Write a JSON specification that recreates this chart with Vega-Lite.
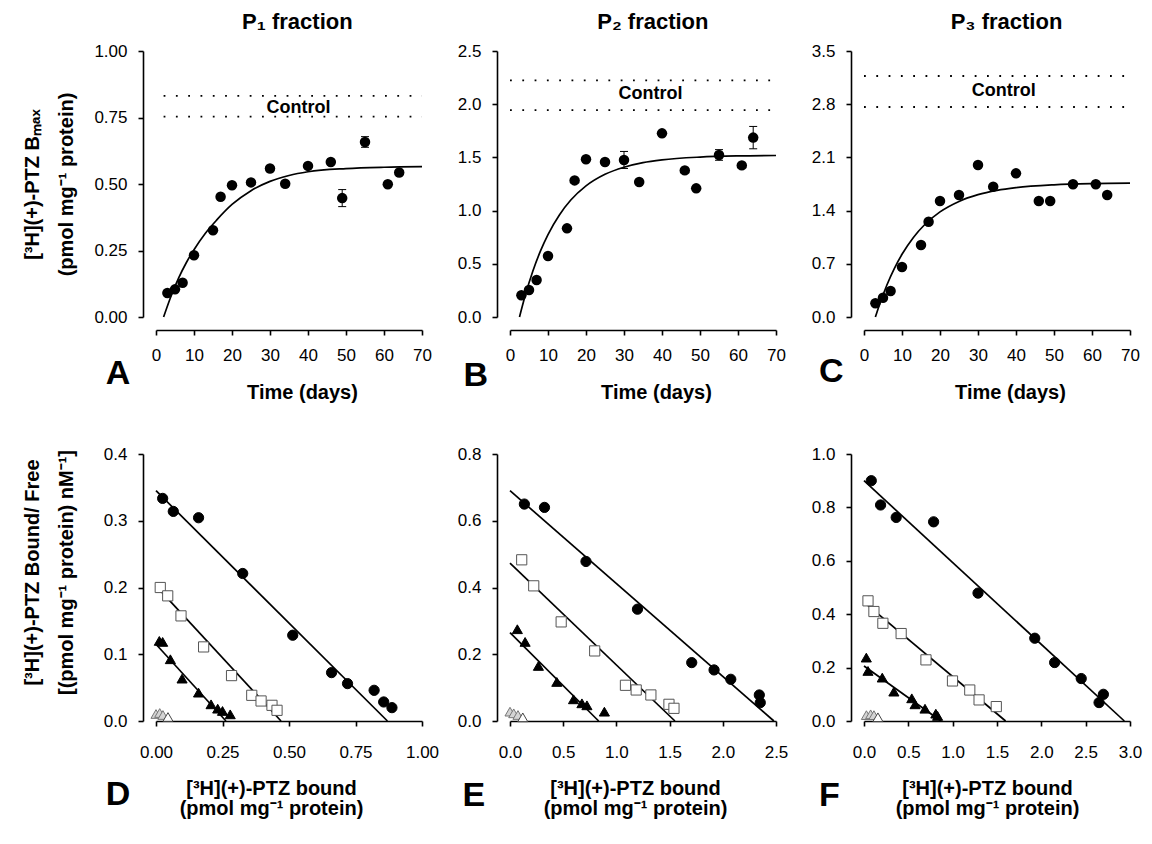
{
 "$schema": "https://vega.github.io/schema/vega-lite/v6.json",
 "background": "white",
 "padding": {"left": 22, "top": 10, "right": 6, "bottom": 4},
 "config": {
  "font": "Liberation Sans",
  "view": {"stroke": null},
  "scale": {"nice": false},
  "axis": {"grid": false, "domainColor": "black", "domainWidth": 1.6, "tickColor": "black", "tickWidth": 1.6, "tickSize": 5,
           "labelFont": "Liberation Sans", "labelFontSize": 17, "labelColor": "black", "labelFlush": false, "labelOverlap": false,
           "titleFont": "Liberation Sans", "titleFontSize": 20, "titleFontWeight": "bold", "titleColor": "black"},
  "axisY": {"labelPadding": 11, "offset": 13},
  "text": {"font": "Liberation Sans", "color": "black", "fontWeight": "bold"}
 },
 "datasets": {
  "tc": [
   {"p":"A","day":3,"y":0.09},{"p":"A","day":5,"y":0.104},{"p":"A","day":7,"y":0.129},{"p":"A","day":10,"y":0.232},
   {"p":"A","day":15,"y":0.326},{"p":"A","day":17,"y":0.452},{"p":"A","day":20,"y":0.495},{"p":"A","day":25,"y":0.506},
   {"p":"A","day":30,"y":0.558},{"p":"A","day":34,"y":0.501},{"p":"A","day":40,"y":0.568},{"p":"A","day":46,"y":0.583},
   {"p":"A","day":49,"y":0.447},{"p":"A","day":55,"y":0.658},{"p":"A","day":61,"y":0.499},{"p":"A","day":64,"y":0.543},
   {"p":"B","day":3,"y":0.204},{"p":"B","day":5,"y":0.254},{"p":"B","day":7,"y":0.348},{"p":"B","day":10,"y":0.573},
   {"p":"B","day":15,"y":0.833},{"p":"B","day":17,"y":1.284},{"p":"B","day":20,"y":1.482},{"p":"B","day":25,"y":1.457},
   {"p":"B","day":30,"y":1.476},{"p":"B","day":34,"y":1.269},{"p":"B","day":40,"y":1.726},{"p":"B","day":46,"y":1.378},
   {"p":"B","day":49,"y":1.209},{"p":"B","day":55,"y":1.523},{"p":"B","day":61,"y":1.425},{"p":"B","day":64,"y":1.686},
   {"p":"C","day":3,"y":0.18},{"p":"C","day":5,"y":0.254},{"p":"C","day":7,"y":0.342},{"p":"C","day":10,"y":0.658},
   {"p":"C","day":15,"y":0.947},{"p":"C","day":17,"y":1.254},{"p":"C","day":20,"y":1.526},{"p":"C","day":25,"y":1.605},
   {"p":"C","day":30,"y":2.0},{"p":"C","day":34,"y":1.715},{"p":"C","day":40,"y":1.89},{"p":"C","day":46,"y":1.526},
   {"p":"C","day":49,"y":1.526},{"p":"C","day":55,"y":1.746},{"p":"C","day":61,"y":1.746},{"p":"C","day":64,"y":1.605}
  ],
  "eb": [
   {"p":"A","day":49,"lo":0.415,"hi":0.479},{"p":"A","day":55,"lo":0.638,"hi":0.678},
   {"p":"B","day":30,"lo":1.396,"hi":1.556},{"p":"B","day":55,"lo":1.473,"hi":1.573},{"p":"B","day":64,"lo":1.581,"hi":1.791}
  ],
  "fit": [
   {"p":"A","day":2,"y":0},{"p":"A","day":4,"y":0.08},{"p":"A","day":6,"y":0.148},{"p":"A","day":8,"y":0.205},{"p":"A","day":10,"y":0.253},
   {"p":"A","day":13,"y":0.315},{"p":"A","day":16,"y":0.365},{"p":"A","day":20,"y":0.423},{"p":"A","day":25,"y":0.475},{"p":"A","day":30,"y":0.51},
   {"p":"A","day":35,"y":0.532},{"p":"A","day":40,"y":0.546},{"p":"A","day":50,"y":0.558},{"p":"A","day":60,"y":0.563},{"p":"A","day":70,"y":0.565},
   {"p":"B","day":2.5,"y":0},{"p":"B","day":4,"y":0.202},{"p":"B","day":6,"y":0.43},{"p":"B","day":8,"y":0.619},{"p":"B","day":10,"y":0.775},
   {"p":"B","day":13,"y":0.959},{"p":"B","day":16,"y":1.099},{"p":"B","day":20,"y":1.232},{"p":"B","day":25,"y":1.341},{"p":"B","day":30,"y":1.408},
   {"p":"B","day":35,"y":1.451},{"p":"B","day":40,"y":1.477},{"p":"B","day":50,"y":1.503},{"p":"B","day":60,"y":1.514},{"p":"B","day":70,"y":1.518},
   {"p":"C","day":3,"y":0},{"p":"C","day":4,"y":0.152},{"p":"C","day":6,"y":0.418},{"p":"C","day":8,"y":0.64},{"p":"C","day":10,"y":0.825},
   {"p":"C","day":13,"y":1.047},{"p":"C","day":16,"y":1.217},{"p":"C","day":20,"y":1.383},{"p":"C","day":25,"y":1.521},{"p":"C","day":30,"y":1.61},
   {"p":"C","day":35,"y":1.666},{"p":"C","day":40,"y":1.702},{"p":"C","day":50,"y":1.739},{"p":"C","day":60,"y":1.755},{"p":"C","day":70,"y":1.761}
  ],
  "ctrl": [
   {"p":"A","lvl":"hi","day":2,"y":0.831},{"p":"A","lvl":"hi","day":70,"y":0.831},
   {"p":"A","lvl":"lo","day":2,"y":0.753},{"p":"A","lvl":"lo","day":70,"y":0.753},
   {"p":"B","lvl":"hi","day":0,"y":2.224},{"p":"B","lvl":"hi","day":70,"y":2.224},
   {"p":"B","lvl":"lo","day":0,"y":1.945},{"p":"B","lvl":"lo","day":70,"y":1.945},
   {"p":"C","lvl":"hi","day":0,"y":3.171},{"p":"C","lvl":"hi","day":70,"y":3.171},
   {"p":"C","lvl":"lo","day":0,"y":2.763},{"p":"C","lvl":"lo","day":70,"y":2.763}
  ],
  "sc": [
   {"p":"D","s":"circle","b":0.025,"r":0.3335},{"p":"D","s":"circle","b":0.065,"r":0.314},{"p":"D","s":"circle","b":0.16,"r":0.3045},
   {"p":"D","s":"circle","b":0.326,"r":0.221},{"p":"D","s":"circle","b":0.514,"r":0.1285},{"p":"D","s":"circle","b":0.66,"r":0.0725},
   {"p":"D","s":"circle","b":0.72,"r":0.056},{"p":"D","s":"circle","b":0.82,"r":0.046},{"p":"D","s":"circle","b":0.856,"r":0.0285},
   {"p":"D","s":"circle","b":0.887,"r":0.02},
   {"p":"D","s":"square","b":0.016,"r":0.2},{"p":"D","s":"square","b":0.044,"r":0.1875},{"p":"D","s":"square","b":0.094,"r":0.1575},
   {"p":"D","s":"square","b":0.179,"r":0.111},{"p":"D","s":"square","b":0.284,"r":0.068},{"p":"D","s":"square","b":0.36,"r":0.0385},
   {"p":"D","s":"square","b":0.395,"r":0.03},{"p":"D","s":"square","b":0.436,"r":0.0235},{"p":"D","s":"square","b":0.455,"r":0.016},
   {"p":"D","s":"triangle","b":0.0125,"r":0.12},{"p":"D","s":"triangle","b":0.025,"r":0.1185},{"p":"D","s":"triangle","b":0.054,"r":0.0925},
   {"p":"D","s":"triangle","b":0.098,"r":0.0635},{"p":"D","s":"triangle","b":0.16,"r":0.0425},{"p":"D","s":"triangle","b":0.207,"r":0.025},
   {"p":"D","s":"triangle","b":0.232,"r":0.0185},{"p":"D","s":"triangle","b":0.25,"r":0.015},{"p":"D","s":"triangle","b":0.279,"r":0.01},
   {"p":"D","s":"hatched","b":0.0,"r":0.0105},{"p":"D","s":"hatched","b":0.014,"r":0.012},{"p":"D","s":"hatched","b":0.026,"r":0.009},
   {"p":"D","s":"open","b":0.045,"r":0.006},
   {"p":"E","s":"circle","b":0.135,"r":0.65},{"p":"E","s":"circle","b":0.324,"r":0.64},{"p":"E","s":"circle","b":0.714,"r":0.478},
   {"p":"E","s":"circle","b":1.198,"r":0.335},{"p":"E","s":"circle","b":1.708,"r":0.175},{"p":"E","s":"circle","b":1.918,"r":0.153},
   {"p":"E","s":"circle","b":2.075,"r":0.125},{"p":"E","s":"circle","b":2.343,"r":0.078},{"p":"E","s":"circle","b":2.352,"r":0.055},
   {"p":"E","s":"square","b":0.11,"r":0.483},{"p":"E","s":"square","b":0.223,"r":0.405},{"p":"E","s":"square","b":0.481,"r":0.297},
   {"p":"E","s":"square","b":0.796,"r":0.21},{"p":"E","s":"square","b":1.085,"r":0.107},{"p":"E","s":"square","b":1.186,"r":0.093},
   {"p":"E","s":"square","b":1.324,"r":0.078},{"p":"E","s":"square","b":1.494,"r":0.05},{"p":"E","s":"square","b":1.541,"r":0.038},
   {"p":"E","s":"triangle","b":0.069,"r":0.275},{"p":"E","s":"triangle","b":0.142,"r":0.237},{"p":"E","s":"triangle","b":0.267,"r":0.165},
   {"p":"E","s":"triangle","b":0.44,"r":0.117},{"p":"E","s":"triangle","b":0.597,"r":0.065},{"p":"E","s":"triangle","b":0.676,"r":0.053},
   {"p":"E","s":"triangle","b":0.723,"r":0.047},{"p":"E","s":"triangle","b":0.887,"r":0.028},
   {"p":"E","s":"hatched","b":0.0,"r":0.028},{"p":"E","s":"hatched","b":0.035,"r":0.023},{"p":"E","s":"hatched","b":0.075,"r":0.018},
   {"p":"E","s":"open","b":0.12,"r":0.011},
   {"p":"F","s":"circle","b":0.082,"r":0.9},{"p":"F","s":"circle","b":0.187,"r":0.809},{"p":"F","s":"circle","b":0.363,"r":0.7625},
   {"p":"F","s":"circle","b":0.785,"r":0.746},{"p":"F","s":"circle","b":1.286,"r":0.479},{"p":"F","s":"circle","b":1.926,"r":0.31},
   {"p":"F","s":"circle","b":2.15,"r":0.219},{"p":"F","s":"circle","b":2.45,"r":0.159},{"p":"F","s":"circle","b":2.651,"r":0.069},
   {"p":"F","s":"circle","b":2.7,"r":0.1},
   {"p":"F","s":"square","b":0.045,"r":0.45},{"p":"F","s":"square","b":0.112,"r":0.41},{"p":"F","s":"square","b":0.213,"r":0.366},
   {"p":"F","s":"square","b":0.419,"r":0.3275},{"p":"F","s":"square","b":0.699,"r":0.229},{"p":"F","s":"square","b":0.998,"r":0.15},
   {"p":"F","s":"square","b":1.193,"r":0.116},{"p":"F","s":"square","b":1.298,"r":0.079},{"p":"F","s":"square","b":1.492,"r":0.054},
   {"p":"F","s":"triangle","b":0.026,"r":0.2375},{"p":"F","s":"triangle","b":0.045,"r":0.1875},{"p":"F","s":"triangle","b":0.206,"r":0.1625},
   {"p":"F","s":"triangle","b":0.337,"r":0.11},{"p":"F","s":"triangle","b":0.539,"r":0.085},{"p":"F","s":"triangle","b":0.576,"r":0.0625},
   {"p":"F","s":"triangle","b":0.688,"r":0.046},{"p":"F","s":"triangle","b":0.81,"r":0.0275},{"p":"F","s":"triangle","b":0.83,"r":0.019},
   {"p":"F","s":"hatched","b":0.027,"r":0.022},{"p":"F","s":"hatched","b":0.075,"r":0.025},{"p":"F","s":"hatched","b":0.112,"r":0.022},
   {"p":"F","s":"open","b":0.157,"r":0.014}
  ],
  "sl": [
   {"p":"D","s":"circle","b":0,"r":0.345},{"p":"D","s":"circle","b":0.87,"r":0},
   {"p":"D","s":"square","b":0,"r":0.2025},{"p":"D","s":"square","b":0.47,"r":0},
   {"p":"D","s":"triangle","b":0,"r":0.115},{"p":"D","s":"triangle","b":0.263,"r":0},
   {"p":"E","s":"circle","b":0,"r":0.69},{"p":"E","s":"circle","b":2.48,"r":0},
   {"p":"E","s":"square","b":0,"r":0.473},{"p":"E","s":"square","b":1.55,"r":0},
   {"p":"E","s":"triangle","b":0,"r":0.265},{"p":"E","s":"triangle","b":0.833,"r":0},
   {"p":"F","s":"circle","b":0,"r":0.9},{"p":"F","s":"circle","b":2.936,"r":0},
   {"p":"F","s":"square","b":0,"r":0.445},{"p":"F","s":"square","b":1.597,"r":0},
   {"p":"F","s":"triangle","b":0,"r":0.206},{"p":"F","s":"triangle","b":0.868,"r":0}
  ]
 },
 "columns": 3,
 "spacing": {"row": 137, "column": 88},
 "bounds": "flush",
 "concat": [
  {
   "width": 266, "height": 266,
   "encoding": {
    "x": {"field": "day", "type": "quantitative", "scale": {"domain": [0, 70], "nice": false},
          "axis": {"values": [0,10,20,30,40,50,60,70], "tickCount": 8, "format": "d", "offset": 13, "labelOverlap": false, "labelPadding": 12, "title": "Time (days)", "titlePadding": 19, "titleX": 146}},
    "y": {"field": "y", "type": "quantitative", "scale": {"domain": [0, 1], "nice": false},
          "axis": {"values": [0,0.25,0.5,0.75,1], "format": ".2f", "labelOverlap": false, "title": ["[³H](+)-PTZ Bₘₐₓ", "(pmol mg⁻¹ protein)"], "titlePadding": 17, "titleLineHeight": 34}}
   },
   "layer": [
    {"data": {"name": "fit"}, "transform": [{"filter": "datum.p==='A'"}],
     "mark": {"type": "line", "color": "black", "strokeWidth": 1.7, "interpolate": "monotone"}},
    {"data": {"name": "ctrl"}, "transform": [{"filter": "datum.p==='A'"}],
     "mark": {"type": "line", "color": "black", "strokeWidth": 1.8, "strokeDash": [1.8, 10.5]},
     "encoding": {"detail": {"field": "lvl"}}},
    {"data": {"values": [{"t": "Control", "day": 37.5, "y": 0.787}]},
     "mark": {"type": "text", "fontSize": 18, "baseline": "middle"},
     "encoding": {"text": {"field": "t"}}},
    {"data": {"name": "eb"}, "transform": [{"filter": "datum.p==='A'"}],
     "mark": {"type": "rule", "color": "black", "strokeWidth": 1},
     "encoding": {"y": {"field": "lo", "type": "quantitative"}, "y2": {"field": "hi"}}},
    {"data": {"name": "eb"}, "transform": [{"filter": "datum.p==='A'"}],
     "mark": {"type": "point", "shape": "stroke", "color": "black", "size": 64, "strokeWidth": 1, "opacity": 1},
     "encoding": {"y": {"field": "lo", "type": "quantitative"}}},
    {"data": {"name": "eb"}, "transform": [{"filter": "datum.p==='A'"}],
     "mark": {"type": "point", "shape": "stroke", "color": "black", "size": 64, "strokeWidth": 1, "opacity": 1},
     "encoding": {"y": {"field": "hi", "type": "quantitative"}}},
    {"data": {"name": "tc"}, "transform": [{"filter": "datum.p==='A'"}],
     "mark": {"type": "circle", "color": "black", "opacity": 1, "size": 110}},
    {"data": {"values": [{"t": "P₁ fraction", "day": 37.2, "y": 1.083}]},
     "mark": {"type": "text", "fontSize": 22, "baseline": "alphabetic"},
     "encoding": {"text": {"field": "t"}}},
    {"data": {"values": [{"t": "A", "day": -10, "y": -0.213}]},
     "mark": {"type": "text", "fontSize": 34, "baseline": "middle"},
     "encoding": {"text": {"field": "t"}}}
   ]
  },
  {
   "width": 266, "height": 266,
   "encoding": {
    "x": {"field": "day", "type": "quantitative", "scale": {"domain": [0, 70], "nice": false},
          "axis": {"values": [0,10,20,30,40,50,60,70], "tickCount": 8, "format": "d", "offset": 13, "labelOverlap": false, "labelPadding": 12, "title": "Time (days)", "titlePadding": 19, "titleX": 146}},
    "y": {"field": "y", "type": "quantitative", "scale": {"domain": [0, 2.5], "nice": false},
          "axis": {"values": [0,0.5,1,1.5,2,2.5], "format": ".1f", "labelOverlap": false, "title": null}}
   },
   "layer": [
    {"data": {"name": "fit"}, "transform": [{"filter": "datum.p==='B'"}],
     "mark": {"type": "line", "color": "black", "strokeWidth": 1.7, "interpolate": "monotone"}},
    {"data": {"name": "ctrl"}, "transform": [{"filter": "datum.p==='B'"}],
     "mark": {"type": "line", "color": "black", "strokeWidth": 1.8, "strokeDash": [1.8, 10.5]},
     "encoding": {"detail": {"field": "lvl"}}},
    {"data": {"values": [{"t": "Control", "day": 37, "y": 2.093}]},
     "mark": {"type": "text", "fontSize": 18, "baseline": "middle"},
     "encoding": {"text": {"field": "t"}}},
    {"data": {"name": "eb"}, "transform": [{"filter": "datum.p==='B'"}],
     "mark": {"type": "rule", "color": "black", "strokeWidth": 1},
     "encoding": {"y": {"field": "lo", "type": "quantitative"}, "y2": {"field": "hi"}}},
    {"data": {"name": "eb"}, "transform": [{"filter": "datum.p==='B'"}],
     "mark": {"type": "point", "shape": "stroke", "color": "black", "size": 64, "strokeWidth": 1, "opacity": 1},
     "encoding": {"y": {"field": "lo", "type": "quantitative"}}},
    {"data": {"name": "eb"}, "transform": [{"filter": "datum.p==='B'"}],
     "mark": {"type": "point", "shape": "stroke", "color": "black", "size": 64, "strokeWidth": 1, "opacity": 1},
     "encoding": {"y": {"field": "hi", "type": "quantitative"}}},
    {"data": {"name": "tc"}, "transform": [{"filter": "datum.p==='B'"}],
     "mark": {"type": "circle", "color": "black", "opacity": 1, "size": 110}},
    {"data": {"values": [{"t": "P₂ fraction", "day": 37.6, "y": 2.707}]},
     "mark": {"type": "text", "fontSize": 22, "baseline": "alphabetic"},
     "encoding": {"text": {"field": "t"}}},
    {"data": {"values": [{"t": "B", "day": -9, "y": -0.555}]},
     "mark": {"type": "text", "fontSize": 34, "baseline": "middle"},
     "encoding": {"text": {"field": "t"}}}
   ]
  },
  {
   "width": 266, "height": 266,
   "encoding": {
    "x": {"field": "day", "type": "quantitative", "scale": {"domain": [0, 70], "nice": false},
          "axis": {"values": [0,10,20,30,40,50,60,70], "tickCount": 8, "format": "d", "offset": 13, "labelOverlap": false, "labelPadding": 12, "title": "Time (days)", "titlePadding": 19, "titleX": 146}},
    "y": {"field": "y", "type": "quantitative", "scale": {"domain": [0, 3.5], "nice": false},
          "axis": {"values": [0,0.7,1.4,2.1,2.8,3.5], "format": ".1f", "labelOverlap": false, "title": null}}
   },
   "layer": [
    {"data": {"name": "fit"}, "transform": [{"filter": "datum.p==='C'"}],
     "mark": {"type": "line", "color": "black", "strokeWidth": 1.7, "interpolate": "monotone"}},
    {"data": {"name": "ctrl"}, "transform": [{"filter": "datum.p==='C'"}],
     "mark": {"type": "line", "color": "black", "strokeWidth": 1.8, "strokeDash": [1.8, 10.5]},
     "encoding": {"detail": {"field": "lvl"}}},
    {"data": {"values": [{"t": "Control", "day": 36.8, "y": 2.97}]},
     "mark": {"type": "text", "fontSize": 18, "baseline": "middle"},
     "encoding": {"text": {"field": "t"}}},
    {"data": {"name": "tc"}, "transform": [{"filter": "datum.p==='C'"}],
     "mark": {"type": "circle", "color": "black", "opacity": 1, "size": 110}},
    {"data": {"values": [{"t": "P₃ fraction", "day": 37.5, "y": 3.789}]},
     "mark": {"type": "text", "fontSize": 22, "baseline": "alphabetic"},
     "encoding": {"text": {"field": "t"}}},
    {"data": {"values": [{"t": "C", "day": -8.6, "y": -0.72}]},
     "mark": {"type": "text", "fontSize": 34, "baseline": "middle"},
     "encoding": {"text": {"field": "t"}}}
   ]
  },
  {
   "width": 266, "height": 267,
   "layer": [
    {"data": {"name": "sl"}, "transform": [{"filter": "datum.p==='D'"}],
     "mark": {"type": "line", "color": "black", "strokeWidth": 1.7},
     "encoding": {
      "x": {"field": "b", "type": "quantitative", "scale": {"domain": [0, 1], "nice": false},
            "axis": {"values": [0,0.25,0.5,0.75,1], "format": ".2f", "labelOverlap": false, "labelPadding": 18, "title": ["[³H](+)-PTZ bound", "(pmol mg⁻¹ protein)"], "titlePadding": 18, "titleLineHeight": 20, "titleX": 115}},
      "y": {"field": "r", "type": "quantitative", "scale": {"domain": [0, 0.4], "nice": false},
            "axis": {"values": [0,0.1,0.2,0.3,0.4], "format": ".1f", "labelOverlap": false, "title": ["[³H](+)-PTZ Bound/ Free", "[(pmol mg⁻¹ protein) nM⁻¹]"], "titlePadding": 27, "titleLineHeight": 34, "titleY": 118}},
      "detail": {"field": "s"}}},
    {"data": {"name": "sc"}, "transform": [{"filter": "datum.p==='D'"}],
     "mark": {"type": "point", "opacity": 1, "strokeWidth": 1},
     "encoding": {"x": {"field": "b", "type": "quantitative"}, "y": {"field": "r", "type": "quantitative"},
      "shape": {"field": "s", "type": "nominal", "legend": null, "scale": {"domain": ["circle","square","triangle","hatched","open"], "range": ["circle","square","triangle-up","triangle-up","triangle-up"]}},
      "size": {"field": "s", "type": "ordinal", "legend": null, "scale": {"domain": ["circle","square","triangle","hatched","open"], "range": [105,100,125,110,110]}},
      "fill": {"field": "s", "type": "nominal", "legend": null, "scale": {"domain": ["circle","square","triangle","hatched","open"], "range": ["#000000","#ffffff","#000000","#d4d4d4","#ffffff"]}},
      "stroke": {"field": "s", "type": "nominal", "legend": null, "scale": {"domain": ["circle","square","triangle","hatched","open"], "range": ["#000000","#555555","#000000","#777777","#444444"]}}}},
    {"data": {"values": [{"t": "D"}]},
     "mark": {"type": "text", "fontSize": 34, "baseline": "middle"},
     "encoding": {"x": {"datum": -0.143, "type": "quantitative"}, "y": {"datum": -0.111, "type": "quantitative"}, "text": {"field": "t"}}}
   ]
  },
  {
   "width": 266, "height": 267,
   "layer": [
    {"data": {"name": "sl"}, "transform": [{"filter": "datum.p==='E'"}],
     "mark": {"type": "line", "color": "black", "strokeWidth": 1.7},
     "encoding": {
      "x": {"field": "b", "type": "quantitative", "scale": {"domain": [0, 2.5], "nice": false},
            "axis": {"values": [0,0.5,1,1.5,2,2.5], "format": ".1f", "labelOverlap": false, "labelPadding": 18, "title": ["[³H](+)-PTZ bound", "(pmol mg⁻¹ protein)"], "titlePadding": 18, "titleLineHeight": 20, "titleX": 125}},
      "y": {"field": "r", "type": "quantitative", "scale": {"domain": [0, 0.8], "nice": false},
            "axis": {"values": [0,0.2,0.4,0.6,0.8], "format": ".1f", "labelOverlap": false, "title": null}},
      "detail": {"field": "s"}}},
    {"data": {"name": "sc"}, "transform": [{"filter": "datum.p==='E'"}],
     "mark": {"type": "point", "opacity": 1, "strokeWidth": 1},
     "encoding": {"x": {"field": "b", "type": "quantitative"}, "y": {"field": "r", "type": "quantitative"},
      "shape": {"field": "s", "type": "nominal", "legend": null, "scale": {"domain": ["circle","square","triangle","hatched","open"], "range": ["circle","square","triangle-up","triangle-up","triangle-up"]}},
      "size": {"field": "s", "type": "ordinal", "legend": null, "scale": {"domain": ["circle","square","triangle","hatched","open"], "range": [105,100,125,110,110]}},
      "fill": {"field": "s", "type": "nominal", "legend": null, "scale": {"domain": ["circle","square","triangle","hatched","open"], "range": ["#000000","#ffffff","#000000","#d4d4d4","#ffffff"]}},
      "stroke": {"field": "s", "type": "nominal", "legend": null, "scale": {"domain": ["circle","square","triangle","hatched","open"], "range": ["#000000","#555555","#000000","#777777","#444444"]}}}},
    {"data": {"values": [{"t": "E"}]},
     "mark": {"type": "text", "fontSize": 34, "baseline": "middle"},
     "encoding": {"x": {"datum": -0.34, "type": "quantitative"}, "y": {"datum": -0.225, "type": "quantitative"}, "text": {"field": "t"}}}
   ]
  },
  {
   "width": 266, "height": 267,
   "layer": [
    {"data": {"name": "sl"}, "transform": [{"filter": "datum.p==='F'"}],
     "mark": {"type": "line", "color": "black", "strokeWidth": 1.7},
     "encoding": {
      "x": {"field": "b", "type": "quantitative", "scale": {"domain": [0, 3], "nice": false},
            "axis": {"values": [0,0.5,1,1.5,2,2.5,3], "format": ".1f", "labelOverlap": false, "labelPadding": 18, "title": ["[³H](+)-PTZ bound", "(pmol mg⁻¹ protein)"], "titlePadding": 18, "titleLineHeight": 20, "titleX": 123}},
      "y": {"field": "r", "type": "quantitative", "scale": {"domain": [0, 1], "nice": false},
            "axis": {"values": [0,0.2,0.4,0.6,0.8,1], "format": ".1f", "labelOverlap": false, "title": null}},
      "detail": {"field": "s"}}},
    {"data": {"name": "sc"}, "transform": [{"filter": "datum.p==='F'"}],
     "mark": {"type": "point", "opacity": 1, "strokeWidth": 1},
     "encoding": {"x": {"field": "b", "type": "quantitative"}, "y": {"field": "r", "type": "quantitative"},
      "shape": {"field": "s", "type": "nominal", "legend": null, "scale": {"domain": ["circle","square","triangle","hatched","open"], "range": ["circle","square","triangle-up","triangle-up","triangle-up"]}},
      "size": {"field": "s", "type": "ordinal", "legend": null, "scale": {"domain": ["circle","square","triangle","hatched","open"], "range": [105,100,125,110,110]}},
      "fill": {"field": "s", "type": "nominal", "legend": null, "scale": {"domain": ["circle","square","triangle","hatched","open"], "range": ["#000000","#ffffff","#000000","#d4d4d4","#ffffff"]}},
      "stroke": {"field": "s", "type": "nominal", "legend": null, "scale": {"domain": ["circle","square","triangle","hatched","open"], "range": ["#000000","#555555","#000000","#777777","#444444"]}}}},
    {"data": {"values": [{"t": "F"}]},
     "mark": {"type": "text", "fontSize": 34, "baseline": "middle"},
     "encoding": {"x": {"datum": -0.39, "type": "quantitative"}, "y": {"datum": -0.281, "type": "quantitative"}, "text": {"field": "t"}}}
   ]
  }
 ]
}
